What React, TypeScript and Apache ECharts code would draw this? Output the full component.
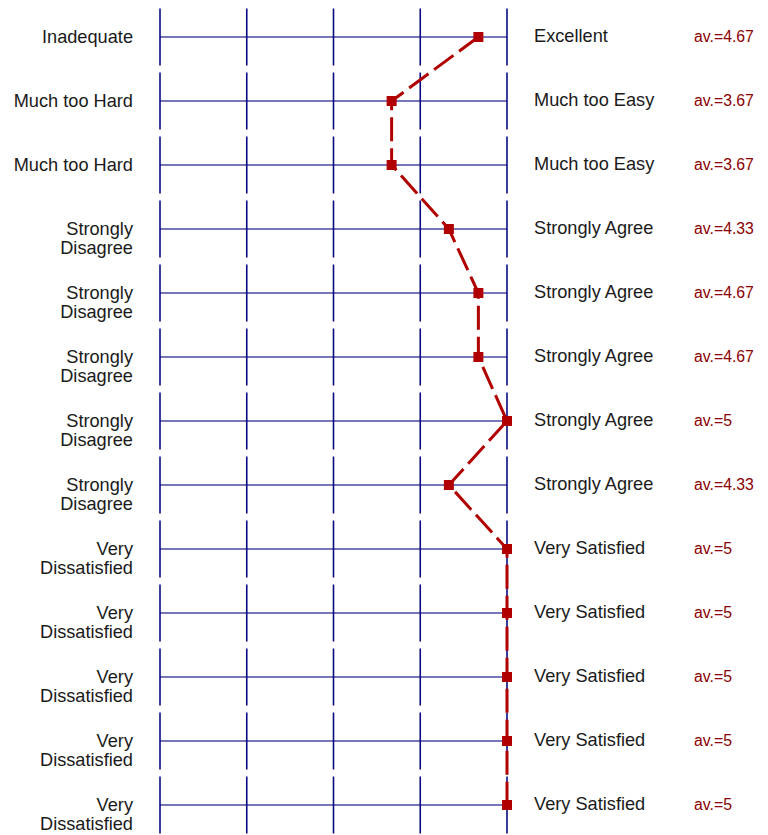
import React, { useEffect, useRef } from "react";
import * as echarts from "echarts";

const leftLabels: string[] = [
  "Inadequate",
  "Much too Hard",
  "Much too Hard",
  "Strongly\nDisagree",
  "Strongly\nDisagree",
  "Strongly\nDisagree",
  "Strongly\nDisagree",
  "Strongly\nDisagree",
  "Very\nDissatisfied",
  "Very\nDissatisfied",
  "Very\nDissatisfied",
  "Very\nDissatisfied",
  "Very\nDissatisfied",
];

const rightLabels: string[] = [
  "Excellent",
  "Much too Easy",
  "Much too Easy",
  "Strongly Agree",
  "Strongly Agree",
  "Strongly Agree",
  "Strongly Agree",
  "Strongly Agree",
  "Very Satisfied",
  "Very Satisfied",
  "Very Satisfied",
  "Very Satisfied",
  "Very Satisfied",
];

const averages: number[] = [4.67, 3.67, 3.67, 4.33, 4.67, 4.67, 5, 4.33, 5, 5, 5, 5, 5];

const scaleTicks: number[] = [1, 2, 3, 4, 5];

const FONT = "'Liberation Sans', Arial, Helvetica, sans-serif";

export default function App() {
  const ref = useRef<HTMLDivElement>(null);

  useEffect(() => {
    if (!ref.current) return;
    const chart = echarts.init(ref.current, undefined, { renderer: "svg" });

    const rowIdx = leftLabels.map((_, i) => i);

    chart.setOption({
      animation: false,
      backgroundColor: "#ffffff",
      textStyle: { fontFamily: FONT },
      grid: { left: 160, width: 347, top: 5, height: 832, containLabel: false },
      xAxis: {
        type: "value",
        min: scaleTicks[0],
        max: scaleTicks[scaleTicks.length - 1],
        interval: 1,
        show: false,
      },
      yAxis: [
        {
          type: "category",
          inverse: true,
          position: "left",
          data: leftLabels,
          axisLine: { show: false },
          axisTick: { show: false },
          splitLine: { show: false },
          axisLabel: {
            margin: 27,
            fontSize: 18.2,
            lineHeight: 18.5,
            color: "#1a1a1a",
            fontFamily: FONT,
            align: "right",
            verticalAlign: "middle",
            padding: [0, 0, 2, 0],
            formatter: (v: string) => (v.includes("\n") ? "\n" + v : v),
          },
        },
        {
          type: "category",
          inverse: true,
          position: "right",
          data: rightLabels,
          axisLine: { show: false },
          axisTick: { show: false },
          splitLine: { show: false },
          axisLabel: {
            margin: 27,
            align: "left",
            verticalAlign: "middle",
            fontFamily: FONT,
            padding: [0, 0, 2, 0],
            formatter: (v: string, i: number) => `{a|${v}}{b|av.=${String(averages[i])}}`,
            rich: {
              a: { fontSize: 18.2, color: "#1a1a1a", width: 160, fontFamily: FONT },
              b: { fontSize: 15.8, color: "#8b0000", fontFamily: FONT },
            },
          },
        },
      ],
      series: [
        {
          type: "custom",
          yAxisIndex: 0,
          silent: true,
          data: rowIdx.map((i) => [scaleTicks[0], i]),
          renderItem: (params: any, api: any) => {
            const i = api.value(1);
            const p0 = api.coord([scaleTicks[0], i]);
            const p1 = api.coord([scaleTicks[scaleTicks.length - 1], i]);
            const band = api.size([0, 1])[1];
            const half = band / 2 - 3.5;
            const children: any[] = [
              {
                type: "line",
                shape: { x1: p0[0], y1: p0[1], x2: p1[0], y2: p1[1] },
                style: { stroke: "#4848a0", lineWidth: 1.6 },
              },
            ];
            scaleTicks.forEach((t) => {
              const x = api.coord([t, i])[0];
              children.push({
                type: "line",
                shape: { x1: x, y1: p0[1] - half, x2: x, y2: p0[1] + half },
                style: { stroke: "#0a0a80", lineWidth: 1.6 },
              });
            });
            return { type: "group", children };
          },
          z: 1,
        },
        {
          type: "line",
          yAxisIndex: 0,
          data: averages.map((v, i) => [v, i]),
          symbol: "rect",
          symbolSize: 10,
          lineStyle: { color: "#b00000", width: 3, type: [24, 7] },
          itemStyle: { color: "#b00000" },
          z: 5,
        },
      ],
    });

    return () => chart.dispose();
  }, []);

  return (
    <div
      ref={ref}
      style={{ position: "fixed", left: 0, top: 0, width: 768, height: 840 }}
    />
  );
}
